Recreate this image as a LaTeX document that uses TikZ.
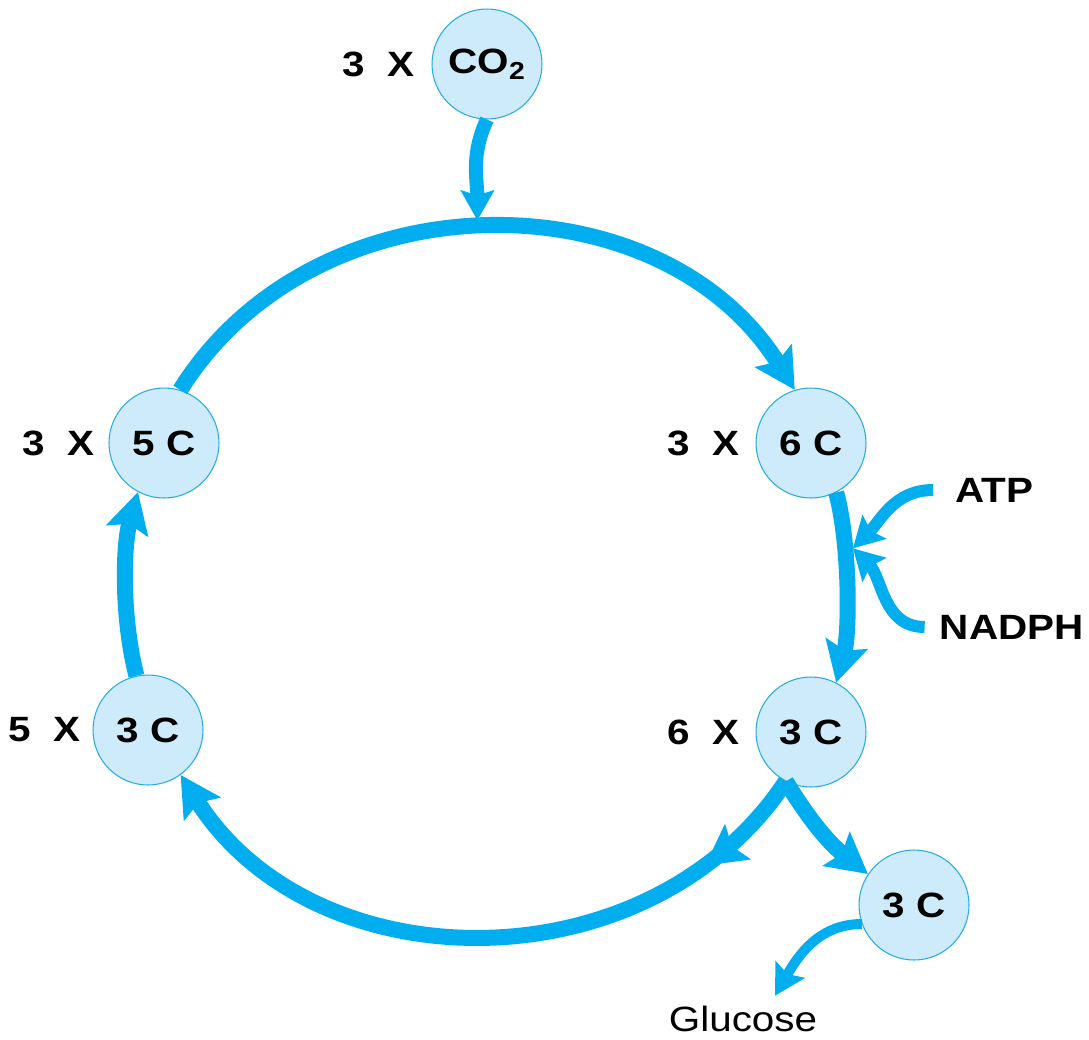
\documentclass[tikz,border=0pt]{standalone}
\usepackage{fontspec}
\setmainfont[FakeStretch=1.15]{Liberation Sans}
\usetikzlibrary{arrows.meta,positioning,decorations.markings}
\definecolor{cycle}{HTML}{00AEEF}
\definecolor{poolfill}{HTML}{CDEBFA}
\definecolor{pooledge}{HTML}{29ABE2}

\begin{document}
\begin{tikzpicture}[x=0.02cm, y=-0.02cm,
    pool/.style={circle, draw=pooledge, line width=0.6pt, fill=poolfill, minimum size=2.2cm, inner sep=0pt, font=\bfseries\fontsize{20}{24}\selectfont},
    tag/.style={font=\bfseries\fontsize{20}{24}\selectfont, inner sep=0pt},
    flow/.style={draw=cycle, line width=0.32cm, -{Stealth[length=0.8cm,width=0.85cm,inset=0.14cm]}},
    feed/.style={draw=cycle, line width=0.24cm, -{Stealth[length=0.6cm,width=0.66cm,inset=0.1cm]}},
    midarrow/.style={postaction={decorate},decoration={markings, mark=at position 0.165 with {\arrow{Stealth[length=0.8cm,width=0.85cm,inset=0.14cm]}}}}]
    \useasboundingbox (0,0) rectangle (1089,1039);
    % Define pools
    \node[pool] at (487,64) (co2) {CO\textsubscript{2}};
    \node[pool] at (164,443) (c5) {5 C};
    \node[pool] at (811,443) (c6) {6 C};
    \node[pool] at (811,732) (c3r) {3 C};
    \node[pool] at (148,730) (c3l) {3 C};
    \node[pool] at (914,905) (c3b) {3 C};

    \node[tag, left=0.34cm of co2] (nco2) {3~~X};
    \node[tag, left=0.28cm of c5] (nc5) {3~~X};
    \node[tag, left=0.32cm of c6] (nc6) {3~~X};
    \node[tag, left=0.24cm of c3l] (nc3l) {5~~X};
    \node[tag, left=0.32cm of c3r] (nc3r) {6~~X};
    \node[tag, anchor=west] at (955,490) (atp) {ATP};
    \node[tag, anchor=east] at (1084,627) (nadph) {NADPH};
    \node[font=\fontsize{20}{24}\selectfont, inner sep=0pt] at (743,1019) (glucose) {Glucose};

    % Draw the cycle
    \draw[flow] (c5.73) to[bend left=58, looseness=1.06] node[coordinate, pos=0.486] (ctop) {} (c6.107);
    \draw[flow] (c6.-63) to[bend left=15, looseness=0.71] node[coordinate, pos=0.31] (cside) {} (c3r.63);
    \draw[flow, midarrow] (c3r.243) to[bend left=57, looseness=1.05] (c3l.-54);
    \draw[flow] (c3l.102) to[bend left=15, looseness=0.8] (c5.-118);
    \draw[flow] (c3r.243) to[bend right=10] (c3b);

    % Draw inputs and output
    \draw[feed, line width=0.28cm] (co2.south) to[out=-115, in=90] ([yshift=0.16cm]ctop);
    \draw[feed] ([xshift=-0.44cm]atp.west) to[out=180, in=45] ([xshift=0.16cm]cside);
    \draw[feed] ([xshift=-0.3cm]nadph.west) to[out=180, in=-45] ([xshift=0.16cm]cside);
    \draw[feed, line width=0.2cm] (c3b.200) to[out=180, in=60] ([shift={(32,-10)}]glucose.north);
\end{tikzpicture}
\end{document}
